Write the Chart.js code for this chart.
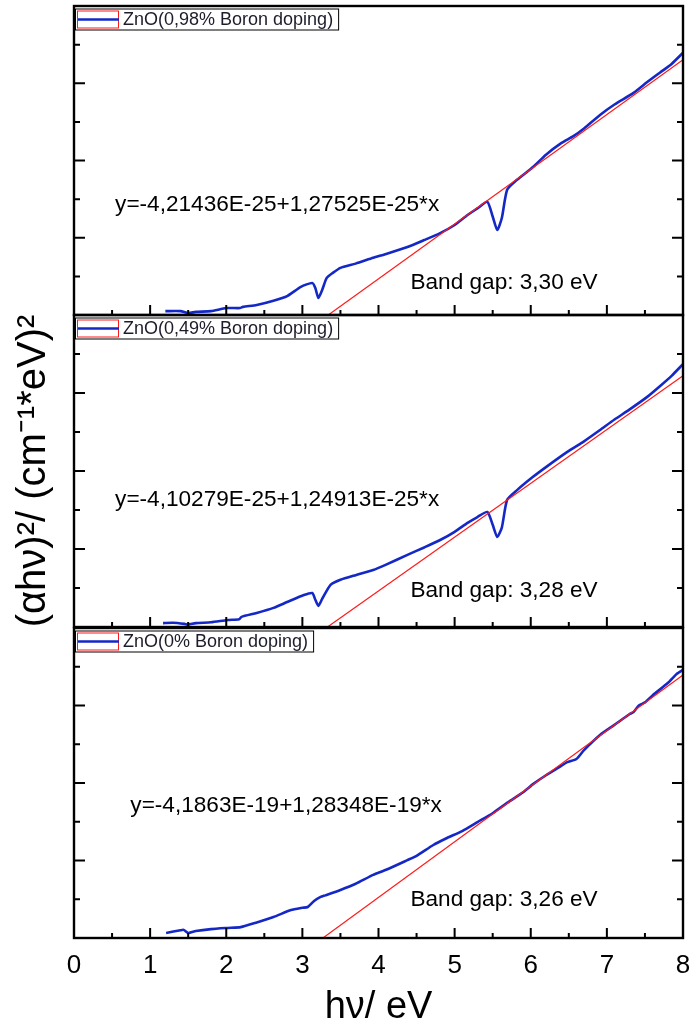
<!DOCTYPE html>
<html>
<head>
<meta charset="utf-8">
<script src="https://cdn.jsdelivr.net/npm/chart.js@4.4.0/dist/chart.umd.min.js"></script>
<style>
  body { margin: 0; background: #fff; width: 690px; height: 1027px; position: relative; overflow: hidden; }
  canvas { position: absolute; left: 0; }
</style>
</head>
<body>
<canvas id="p1" width="690" height="320" style="top:0"></canvas>
<canvas id="p2" width="690" height="320" style="top:310px"></canvas>
<canvas id="p3" width="690" height="404" style="top:623px"></canvas>
<script>
// x axis (photon energy, eV) and tick values
const xTicks = [0, 1, 2, 3, 4, 5, 6, 7, 8];
const yTicks = [0, 1, 2, 3, 4, 5, 6, 7, 8]; // unlabeled ticks, same for every panel

const seriesNames = ['ZnO(0,98% Boron doping)', 'ZnO(0,49% Boron doping)', 'ZnO(0% Boron doping)'];
const fitTexts = ['y=-4,21436E-25+1,27525E-25*x', 'y=-4,10279E-25+1,24913E-25*x', 'y=-4,1863E-19+1,28348E-19*x'];
const gapTexts = ['Band gap: 3,30 eV', 'Band gap: 3,28 eV', 'Band gap: 3,26 eV'];

// 0,98% B
const hv098 = [1.20, 1.40, 1.50, 1.60, 1.80, 2.00, 2.18, 2.22, 2.40, 2.62, 2.80, 2.98, 3.13, 3.17, 3.21, 3.26, 3.32, 3.40, 3.50, 3.70, 3.93,
  4.10, 4.38, 4.60, 4.81, 5.00, 5.17, 5.30, 5.43, 5.50, 5.56, 5.62, 5.69, 5.82, 6.03, 6.20, 6.40, 6.56, 6.70, 6.91, 7.10, 7.35, 7.53, 7.70, 7.85, 8.00];
const ahv098 = [0.10, 0.10, 0.05, 0.08, 0.10, 0.18, 0.18, 0.21, 0.26, 0.37, 0.49, 0.73, 0.83, 0.70, 0.44, 0.65, 0.96, 1.09, 1.22, 1.33, 1.48,
  1.58, 1.76, 1.94, 2.12, 2.33, 2.59, 2.76, 2.93, 2.55, 2.20, 2.51, 3.24, 3.50, 3.83, 4.15, 4.45, 4.63, 4.83, 5.18, 5.45, 5.75, 6.03, 6.28, 6.50, 6.79];
const fit098x = [3.34, 8.00];
const fit098y = [0.00, 6.61];

// 0,49% B
const hv049 = [1.17, 1.30, 1.45, 1.50, 1.60, 1.80, 2.02, 2.17, 2.20, 2.40, 2.62, 2.80, 3.02, 3.13, 3.17, 3.21, 3.26, 3.37, 3.50, 3.70, 3.93,
  4.10, 4.38, 4.60, 4.81, 5.00, 5.17, 5.30, 5.43, 5.50, 5.56, 5.62, 5.69, 5.82, 6.03, 6.20, 6.48, 6.70, 6.91, 7.10, 7.30, 7.53, 7.70, 7.85, 8.00];
const ahv049 = [0.10, 0.11, 0.08, 0.06, 0.10, 0.12, 0.18, 0.20, 0.26, 0.36, 0.49, 0.64, 0.82, 0.87, 0.70, 0.54, 0.72, 1.08, 1.21, 1.33, 1.46,
  1.60, 1.85, 2.04, 2.23, 2.44, 2.67, 2.82, 2.95, 2.62, 2.31, 2.55, 3.26, 3.51, 3.85, 4.10, 4.49, 4.76, 5.05, 5.32, 5.58, 5.90, 6.18, 6.44, 6.74];
const fit049x = [3.33, 8.00];
const fit049y = [0.00, 6.44];

// 0% B
const hv000 = [1.21, 1.40, 1.44, 1.50, 1.60, 1.80, 2.02, 2.19, 2.40, 2.62, 2.85, 3.00, 3.07, 3.15, 3.24, 3.30, 3.50, 3.70, 3.93, 4.10, 4.38,
  4.50, 4.72, 4.90, 5.10, 5.30, 5.50, 5.70, 5.90, 6.03, 6.20, 6.40, 6.48, 6.60, 6.70, 6.91, 7.10, 7.30, 7.35, 7.42, 7.50, 7.60, 7.80, 7.92, 8.00];
const ahv000 = [0.13, 0.20, 0.21, 0.13, 0.18, 0.23, 0.26, 0.28, 0.40, 0.54, 0.72, 0.78, 0.80, 0.95, 1.06, 1.10, 1.24, 1.40, 1.63, 1.76, 2.01,
  2.12, 2.40, 2.58, 2.76, 2.99, 3.22, 3.50, 3.76, 3.97, 4.20, 4.44, 4.54, 4.62, 4.85, 5.24, 5.50, 5.78, 5.83, 6.00, 6.08, 6.26, 6.58, 6.82, 6.92];
const fit000x = [3.27, 8.00];
const fit000y = [0.00, 6.79];

const FONT = "'Liberation Sans', Arial, sans-serif";
const BLUE = '#1428c6';
const RED = '#ff1a1a';

function pts(xs, ys) {
  return xs.map((v, i) => ({ x: v, y: ys[i] }));
}

// box, inward ticks, legend and fit text
const framePlugin = {
  id: 'frame',
  afterDraw(chart, args, opts) {
    const { ctx, chartArea: a, scales: { x, y } } = chart;
    ctx.save();
    ctx.strokeStyle = '#000';
    ctx.lineWidth = 2;
    ctx.beginPath();
    xTicks.forEach(v => {
      const px = x.getPixelForValue(v);
      ctx.moveTo(px, a.bottom); ctx.lineTo(px, a.bottom - 10);
      if (v < 8) {
        const pm = x.getPixelForValue(v + 0.5);
        ctx.moveTo(pm, a.bottom); ctx.lineTo(pm, a.bottom - 5);
      }
    });
    yTicks.slice(1, -1).forEach(v => {
      const py = y.getPixelForValue(v);
      const len = v % 2 === 0 ? 11 : 6;
      ctx.moveTo(a.left, py); ctx.lineTo(a.left + len, py);
      ctx.moveTo(a.right, py); ctx.lineTo(a.right - len, py);
    });
    ctx.stroke();
    ctx.lineWidth = 2.4;
    ctx.strokeRect(a.left, a.top, a.right - a.left, a.bottom - a.top);

    // legend
    ctx.font = '18px ' + FONT;
    const tw = ctx.measureText(opts.label).width;
    const lx = a.left + 1, ly = a.top + 2.5, lh = 21;
    ctx.fillStyle = '#fff';
    ctx.fillRect(lx, ly, tw + 53, lh);
    ctx.lineWidth = 1;
    ctx.strokeStyle = '#000';
    ctx.strokeRect(lx + 0.5, ly + 0.5, tw + 53, lh);
    ctx.strokeStyle = RED;
    ctx.strokeRect(lx + 2.5, ly + 2.5, 41, lh - 4);
    ctx.strokeStyle = BLUE;
    ctx.lineWidth = 2.5;
    ctx.beginPath();
    ctx.moveTo(lx + 3, ly + lh / 2 + 0.5); ctx.lineTo(lx + 44, ly + lh / 2 + 0.5);
    ctx.stroke();
    ctx.fillStyle = '#1c1c2a';
    ctx.textBaseline = 'middle';
    ctx.textAlign = 'left';
    ctx.fillText(opts.label, lx + 48, ly + lh / 2 + 1);

    // fit equation and band gap
    ctx.font = '22.6px ' + FONT;
    ctx.fillStyle = '#000';
    ctx.fillText(opts.fit, x.getPixelForValue(opts.fitAt[0]), y.getPixelForValue(opts.fitAt[1]));
    ctx.fillText(opts.gap, x.getPixelForValue(opts.gapAt[0]), y.getPixelForValue(opts.gapAt[1]));
    ctx.restore();
  }
};

function makePanel(id, i, hv, ahv, fx, fy, cfg) {
  return new Chart(document.getElementById(id), {
    type: 'line',
    data: {
      datasets: [
        { label: 'fit', data: pts(fx, fy), borderColor: RED, borderWidth: 1.2, pointRadius: 0, order: 0 },
        { label: seriesNames[i], data: pts(hv, ahv), borderColor: BLUE, borderWidth: 2.6, pointRadius: 0, tension: 0.2, order: 1 }
      ]
    },
    options: {
      responsive: false,
      animation: false,
      events: [],
      layout: { padding: cfg.padding },
      plugins: {
        legend: { display: false },
        tooltip: { enabled: false },
        frame: { label: seriesNames[i], fit: fitTexts[i], gap: gapTexts[i], fitAt: cfg.fitAt, gapAt: cfg.gapAt }
      },
      scales: {
        x: {
          type: 'linear', min: 0, max: 8,
          display: cfg.showX || false,
          grid: { display: false, drawTicks: false },
          border: { display: false },
          afterBuildTicks: s => { s.ticks = xTicks.map(v => ({ value: v })); },
          afterFit: s => {
            if (cfg.xHeight) s.height = cfg.xHeight;
            s.paddingLeft = 0; s.paddingRight = 0;
          },
          ticks: { color: '#000', font: { family: FONT, size: 26 }, padding: 12, maxRotation: 0 },
          title: { display: true, text: 'hν/ eV', color: '#000', font: { family: FONT, size: 38 }, padding: { top: 0, bottom: -3 } }
        },
        y: {
          type: 'linear', min: 0, max: 8,
          display: cfg.showY || false,
          grid: { display: false, drawTicks: false },
          border: { display: false },
          ticks: { display: false },
          afterBuildTicks: s => { s.ticks = yTicks.map(v => ({ value: v })); },
          afterFit: s => { if (cfg.yWidth) s.width = cfg.yWidth; },
          title: { display: true, text: '(αhν)²/ (cm⁻¹*eV)²', color: '#000', font: { family: FONT, size: 40 }, padding: { top: 10, bottom: 0 } }
        }
      }
    },
    plugins: [framePlugin]
  });
}

makePanel('p1', 0, hv098, ahv098, fit098x, fit098y, {
  padding: { left: 74, right: 7, top: 6, bottom: 5 },
  fitAt: [0.54, 2.85], gapAt: [4.42, 0.83]
});
makePanel('p2', 1, hv049, ahv049, fit049x, fit049y, {
  padding: { left: 0, right: 7, top: 5, bottom: 3 },
  showY: true, yWidth: 74,
  fitAt: [0.54, 3.26], gapAt: [4.42, 0.92]
});
makePanel('p3', 2, hv000, ahv000, fit000x, fit000y, {
  padding: { left: 74, right: 7, top: 5, bottom: 0 },
  showX: true, xHeight: 89,
  fitAt: [0.74, 3.41], gapAt: [4.42, 0.98]
});
</script>
</body>
</html>
